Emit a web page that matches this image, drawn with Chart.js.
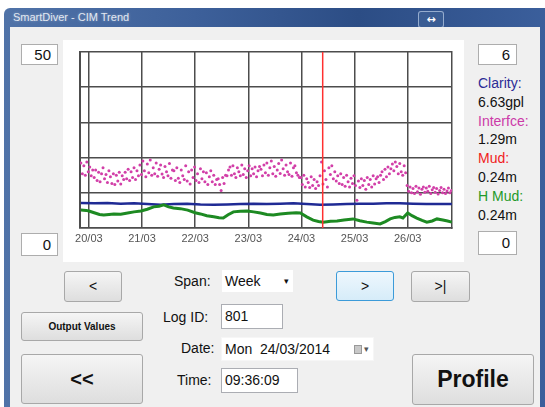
<!DOCTYPE html>
<html>
<head>
<meta charset="utf-8">
<script src="https://cdn.jsdelivr.net/npm/chart.js@4"></script>
<style>
body { margin:0; width:545px; height:407px; overflow:hidden; background:#fff; position:relative; font-family:"Liberation Sans", Arial, sans-serif; }
.abs { position:absolute; }
.frame { left:4px; top:8px; width:545px; height:410px; border-radius:6px 0 0 0;
  background:linear-gradient(90deg,#5073a8 0%,#3d609a 35%,#2c4d85 65%,#3b5f9c 100%); }
.title { left:13px; top:11px; font-size:11px; color:#e2e8f1; text-shadow:0 0 3px rgba(255,255,255,0.35); }
.tbtn { left:418px; top:11px; width:24px; height:15px; border:1px solid rgba(210,225,245,0.6); border-radius:3px;
  background:#3a5d94; color:#fff; font:bold 11px "DejaVu Sans"; text-align:center; line-height:15px; }
.client { left:10px; top:27px; width:530px; height:390px; background:#f0f0f0; }
.panel { left:63px; top:40px; width:401px; height:222px; background:#fff; }
.box { background:#fff; border:1px solid #adadad; font-size:15px; text-align:right; box-sizing:border-box; padding-right:6px; color:#111; }
.lbl { font-size:14px; color:#111; white-space:nowrap; }
.btn { box-sizing:border-box; border:1px solid #a8a8a8; border-radius:3px; background:linear-gradient(#f5f5f5,#dedede);
  text-align:center; color:#111; }
.inp { box-sizing:border-box; background:#fff; border:1px solid #abadb3; font-size:14px; padding-left:3px; color:#111; }
</style>
</head>
<body>
<div class="abs frame"></div>
<div class="abs title">SmartDiver - CIM Trend</div>
<div class="abs tbtn">↔</div>
<div class="abs client"></div>
<div class="abs panel"></div>

<div class="abs box" style="left:21px;top:44px;width:37px;height:21px;line-height:19px;">50</div>
<div class="abs box" style="left:21px;top:233px;width:37px;height:23px;line-height:21px;">0</div>
<div class="abs box" style="left:478px;top:44px;width:39px;height:21px;line-height:19px;">6</div>
<div class="abs box" style="left:478px;top:231px;width:39px;height:24px;line-height:22px;">0</div>

<div class="abs lbl" style="left:478px;top:75px;color:#2c2c96;">Clarity:</div>
<div class="abs lbl" style="left:478px;top:94px;">6.63gpl</div>
<div class="abs lbl" style="left:478px;top:113px;color:#cc3aa8;">Interfce:</div>
<div class="abs lbl" style="left:478px;top:131px;">1.29m</div>
<div class="abs lbl" style="left:478px;top:150px;color:#f01c1c;">Mud:</div>
<div class="abs lbl" style="left:478px;top:169px;">0.24m</div>
<div class="abs lbl" style="left:478px;top:188px;color:#1f9a2a;">H Mud:</div>
<div class="abs lbl" style="left:478px;top:207px;">0.24m</div>

<canvas id="trend" class="abs" style="left:63px;top:40px;" width="400" height="222"></canvas>

<div class="abs btn" style="left:64px;top:271px;width:58px;height:31px;line-height:29px;font-size:14px;">&lt;</div>
<div class="abs lbl" style="left:174px;top:273px;">Span:</div>
<div class="abs inp" style="left:221px;top:269px;width:73px;height:24px;line-height:22px;border-color:#f0f0f0;">Week<span style="position:absolute;left:62px;top:0;font-size:9px;">▾</span></div>
<div class="abs btn" style="left:336px;top:271px;width:58px;height:30px;line-height:28px;font-size:14px;border-color:#3c9bd9;background:linear-gradient(#eef7fd,#d6ecf9);">&gt;</div>
<div class="abs btn" style="left:411px;top:271px;width:59px;height:31px;line-height:29px;font-size:14px;">&gt;|</div>

<div class="abs btn" style="left:21px;top:312px;width:122px;height:29px;line-height:27px;font-size:10px;font-weight:bold;">Output Values</div>
<div class="abs lbl" style="left:163px;top:309px;">Log ID:</div>
<div class="abs inp" style="left:221px;top:304px;width:62px;height:25px;line-height:23px;">801</div>

<div class="abs lbl" style="left:181px;top:340px;">Date:</div>
<div class="abs inp" style="left:221px;top:337px;width:153px;height:24px;line-height:22px;border-color:#f6f6f6;">Mon&nbsp; 24/03/2014
  <span style="position:absolute;left:132px;top:7px;width:8px;height:9px;background:#c8c8c8;border:1px solid #999;box-sizing:border-box;"></span>
  <span style="position:absolute;left:142px;top:0;font-size:9px;color:#555;">▾</span></div>

<div class="abs btn" style="left:21px;top:354px;width:122px;height:50px;line-height:48px;font-size:20px;font-weight:bold;">&lt;&lt;</div>
<div class="abs lbl" style="left:177px;top:372px;">Time:</div>
<div class="abs inp" style="left:221px;top:368px;width:77px;height:25px;line-height:23px;">09:36:09</div>

<div class="abs btn" style="left:412px;top:354px;width:122px;height:51px;line-height:49px;font-size:23px;font-weight:bold;">Profile</div>

<script>
// x axis in days, 0 = 20/03 00:00; the view spans one week
var viewStart = -0.1667;
var viewEnd = 6.8333;
var dayTicks = [0, 1, 2, 3, 4, 5, 6];
var dayLabels = ['20/03', '21/03', '22/03', '23/03', '24/03', '25/03', '26/03'];

// Clarity (gpl, left axis 0-50)
var clarityDays = [-0.15, 0.1, 0.35, 0.6, 0.85, 1.1, 1.35, 1.6, 1.85, 2.1, 2.35, 2.6, 2.85, 3.1, 3.35,
    3.6, 3.85, 4.1, 4.35, 4.6, 4.85, 5.1, 5.35, 5.6, 5.85, 6.1, 6.35, 6.6, 6.83];
var clarityValues = [7.1, 7.0, 7.1, 6.9, 7.0, 6.8, 6.6, 6.8, 6.9, 6.7, 6.6, 6.7, 6.8, 6.9, 6.8,
    6.9, 7.0, 6.8, 6.6, 6.7, 6.8, 6.9, 6.9, 7.0, 7.0, 6.9, 6.8, 6.8, 6.8];

// H Mud (m, right axis 0-6)
var hmudDays = [-0.15, -0.05, 0.0, 0.1, 0.2, 0.28, 0.38, 0.47, 0.6, 0.73, 0.85, 0.98, 1.1, 1.22, 1.32,
    1.41, 1.5, 1.59, 1.72, 1.86, 2.0, 2.1, 2.22, 2.35, 2.45, 2.53, 2.62, 2.72, 2.85, 2.98,
    3.1, 3.23, 3.35, 3.47, 3.6, 3.75, 3.9, 3.98, 4.1, 4.22, 4.32, 4.41, 4.55, 4.67, 4.8,
    4.97, 5.1, 5.23, 5.35, 5.48, 5.58, 5.67, 5.76, 5.85, 5.91, 6.0, 6.08, 6.17, 6.27, 6.36,
    6.46, 6.55, 6.66, 6.75, 6.83];
var hmudValues = [0.61, 0.60, 0.58, 0.52, 0.46, 0.44, 0.46, 0.48, 0.47, 0.51, 0.55, 0.58, 0.64, 0.72, 0.74,
    0.79, 0.72, 0.68, 0.66, 0.61, 0.52, 0.48, 0.42, 0.38, 0.35, 0.34, 0.45, 0.55, 0.57, 0.58,
    0.55, 0.51, 0.46, 0.44, 0.48, 0.50, 0.52, 0.51, 0.38, 0.27, 0.22, 0.20, 0.23, 0.24, 0.27,
    0.31, 0.25, 0.20, 0.17, 0.14, 0.22, 0.31, 0.36, 0.38, 0.34, 0.51, 0.42, 0.34, 0.26, 0.20,
    0.24, 0.31, 0.27, 0.24, 0.20];

// Interface (m, right axis 0-6), one sample every 40 minutes
var interfceStart = -0.15;
var interfceStep = 1 / 36;
var interfceValues = [
    2.22, 1.85, 2.12, 1.80, 2.25, 1.92, 2.08, 1.78, 1.98,
    1.72, 1.98, 1.62, 1.90, 1.58, 1.85, 2.05, 1.68, 1.82, 1.55, 1.95,
    1.75, 1.52, 1.85, 1.48, 1.80, 1.60, 1.90, 1.50, 1.78, 1.65,
    1.90, 1.68, 2.00, 1.62, 1.92, 1.72, 2.05, 1.65, 1.95, 1.78,
    2.15, 1.82, 2.28, 1.95, 1.75, 2.18, 1.88, 2.32, 1.80, 2.05, 1.85, 2.22, 1.76, 2.00, 2.15, 1.84, 1.72, 2.10, 1.92, 1.78, 2.20, 1.70, 1.98,
    1.95, 1.62, 2.05, 1.70, 1.55, 1.98, 1.78, 1.65, 2.12, 1.60, 1.92, 1.50, 1.98, 1.72, 2.08, 1.62, 1.85, 1.55, 2.02, 1.68, 1.92, 1.58, 1.88, 1.48, 1.75, 1.95, 1.58, 1.80, 1.48, 1.65,
    1.68, 1.48, 1.28, 1.72, 1.52, 1.80,
    1.78, 1.98, 2.08, 1.80, 2.12, 1.85, 1.72, 2.05, 1.92, 1.78, 2.15, 1.82, 2.02, 1.72, 1.95, 2.12, 1.78, 2.02, 1.85, 2.08, 1.75, 1.95, 2.10,
    2.00, 1.78, 2.15, 1.88, 2.22, 1.80, 2.05, 2.28, 1.85, 2.10, 1.76, 1.98, 2.20, 1.86, 2.32, 2.02, 1.80, 2.15, 1.92, 1.82, 2.22, 1.76, 2.05, 2.12, 1.88, 1.80, 1.72,
    1.72, 1.48, 1.80, 1.40, 1.68, 1.55, 1.38, 1.75, 1.45, 1.65, 1.35, 1.58, 1.45,
    1.78, 2.25, 1.50, 1.95, 1.65, 1.40, 2.05, 1.82, 2.12, 1.68, 1.92, 1.60,
    1.78, 1.52, 1.85, 1.48, 1.72, 1.42, 1.80, 1.58, 1.40, 1.70, 1.52, 1.78, 1.45, 0.95,
    1.60, 1.38, 1.68, 1.45, 1.62, 1.32, 1.72, 1.48, 1.65, 1.40, 1.78, 1.50, 1.68, 1.75, 1.55,
    1.80, 1.92, 1.65, 2.00, 1.75, 2.08, 1.85, 2.02, 2.18, 1.95, 2.25, 2.10, 1.85, 2.20, 1.92, 1.80, 2.12, 1.88,
    1.45, 1.25, 1.40, 1.20, 1.35, 1.18, 1.42, 1.24, 1.36, 1.15, 1.32, 1.40, 1.22, 1.36, 1.25, 1.42, 1.18, 1.30, 1.38, 1.22, 1.35, 1.16, 1.28, 1.38, 1.20, 1.32, 1.18, 1.26, 1.36, 1.20, 1.28
];

// cursor: Mon 24/03/2014 09:36:09
var cursorDay = 4 + (9 * 3600 + 36 * 60 + 9) / 86400;

function pairs(xs, ys) {
    var out = [];
    for (var i = 0; i < ys.length; i++) out.push({x: xs[i], y: ys[i]});
    return out;
}

var interfcePoints = [];
for (var i = 0; i < interfceValues.length; i++) {
    interfcePoints.push({x: interfceStart + i * interfceStep, y: interfceValues[i]});
}

var gridColor = '#4d4d4d';

var trendChart = new Chart(document.getElementById('trend').getContext('2d'), {
    type: 'line',
    data: {
        datasets: [
            {
                label: 'Interfce',
                type: 'scatter',
                data: interfcePoints,
                yAxisID: 'yRight',
                showLine: false,
                pointRadius: 1.5,
                pointBorderWidth: 0,
                pointBackgroundColor: '#d23fa8',
                order: 4
            },
            {
                label: 'Clarity',
                data: pairs(clarityDays, clarityValues),
                yAxisID: 'yLeft',
                borderColor: '#1f2a94',
                borderWidth: 2.5,
                pointRadius: 0,
                order: 3
            },
            {
                label: 'H Mud',
                data: pairs(hmudDays, hmudValues),
                yAxisID: 'yRight',
                borderColor: '#1d8a22',
                borderWidth: 3,
                pointRadius: 0,
                order: 2
            },
            {
                label: 'Cursor',
                data: [{x: cursorDay, y: 0}, {x: cursorDay, y: 50}],
                yAxisID: 'yLeft',
                borderColor: '#ff3030',
                borderWidth: 1.5,
                pointRadius: 0,
                order: 1
            }
        ]
    },
    options: {
        responsive: false,
        animation: false,
        layout: { padding: { left: 17, right: 11, top: 12, bottom: 12 } },
        plugins: { legend: { display: false }, tooltip: { enabled: false } },
        scales: {
            x: {
                type: 'linear',
                min: viewStart,
                max: viewEnd,
                afterBuildTicks: function(scale) {
                    scale.ticks = dayTicks.map(function(d) { return {value: d}; });
                },
                afterFit: function(scale) { scale.height = 22; },
                ticks: {
                    autoSkip: false,
                    maxRotation: 0,
                    padding: 4,
                    color: '#555',
                    font: { family: 'Liberation Sans', size: 11 },
                    callback: function(v) {
                        var k = dayTicks.indexOf(v);
                        return k >= 0 ? dayLabels[k] : '';
                    }
                },
                grid: { color: gridColor, lineWidth: 1.5, drawTicks: false },
                border: { color: gridColor, width: 1.5 }
            },
            yLeft: {
                position: 'left',
                min: 0,
                max: 50,
                afterFit: function(scale) { scale.width = 0; },
                ticks: { stepSize: 10, display: false },
                grid: { color: gridColor, lineWidth: 1.5, drawTicks: false },
                border: { color: gridColor, width: 2 }
            },
            yRight: {
                position: 'right',
                min: 0,
                max: 6,
                afterFit: function(scale) { scale.width = 0; },
                ticks: { display: false },
                grid: { display: false, drawTicks: false },
                border: { color: gridColor, width: 1.5 }
            }
        }
    }
});
</script>
</body>
</html>
